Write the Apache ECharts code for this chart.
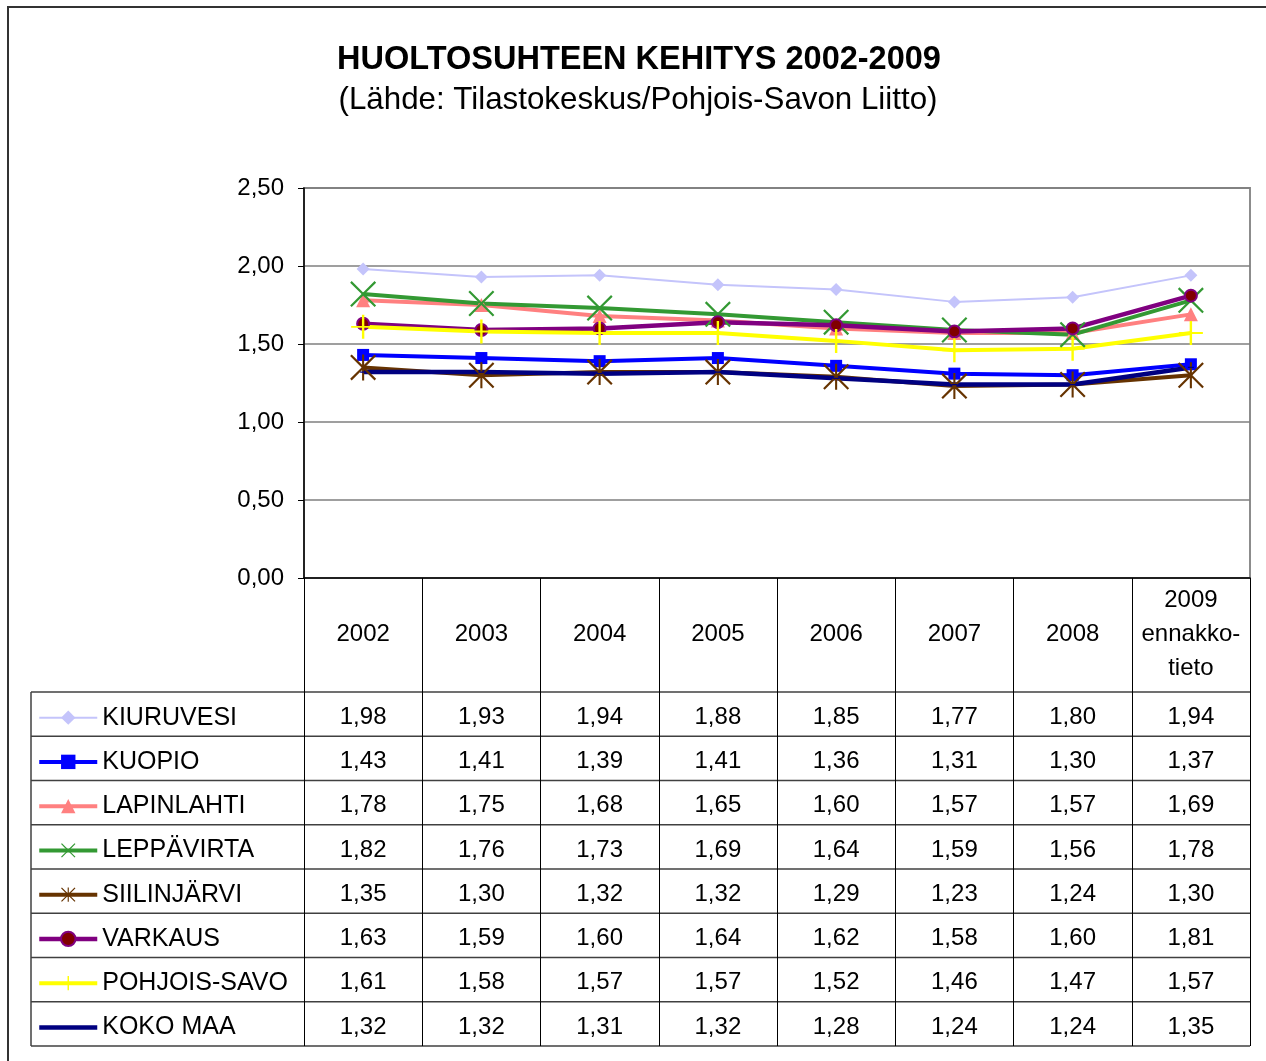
<!DOCTYPE html>
<html>
<head>
<meta charset="utf-8">
<script src="https://cdn.jsdelivr.net/npm/echarts@6/dist/echarts.min.js"></script>
<style>
  html, body { margin: 0; padding: 0; background: #fff; }
  #main { width: 1266px; height: 1061px; }
</style>
</head>
<body>
<div id="main"></div>
<script>
// vuodet (x-akseli)
var years = ['2002', '2003', '2004', '2005', '2006', '2007', '2008', '2009\nennakko-\ntieto'];
var yTicks = [0, 0.5, 1, 1.5, 2, 2.5];

var kiuruvesi   = [1.98, 1.93, 1.94, 1.88, 1.85, 1.77, 1.80, 1.94];
var kuopio      = [1.43, 1.41, 1.39, 1.41, 1.36, 1.31, 1.30, 1.37];
var lapinlahti  = [1.78, 1.75, 1.68, 1.65, 1.60, 1.57, 1.57, 1.69];
var leppavirta  = [1.82, 1.76, 1.73, 1.69, 1.64, 1.59, 1.56, 1.78];
var siilinjarvi = [1.35, 1.30, 1.32, 1.32, 1.29, 1.23, 1.24, 1.30];
var varkaus     = [1.63, 1.59, 1.60, 1.64, 1.62, 1.58, 1.60, 1.81];
var pohjoisSavo = [1.61, 1.58, 1.57, 1.57, 1.52, 1.46, 1.47, 1.57];
var kokoMaa     = [1.32, 1.32, 1.31, 1.32, 1.28, 1.24, 1.24, 1.35];

var names = ['KIURUVESI', 'KUOPIO', 'LAPINLAHTI', 'LEPPÄVIRTA', 'SIILINJÄRVI', 'VARKAUS', 'POHJOIS-SAVO', 'KOKO MAA'];
var values = [kiuruvesi, kuopio, lapinlahti, leppavirta, siilinjarvi, varkaus, pohjoisSavo, kokoMaa];

// merkit
var xMark = 'path://M0,0.6L0.6,0L5,4.4L9.4,0L10,0.6L5.6,5L10,9.4L9.4,10L5,5.6L0.6,10L0,9.4L4.4,5Z';
var starMark = 'path://M0,0.6L0.6,0L5,4.4L9.4,0L10,0.6L5.6,5L10,9.4L9.4,10L5,5.6L0.6,10L0,9.4L4.4,5Z M4.6,0L5.4,0L5.4,10L4.6,10Z';
var plusMark = 'path://M4.5,0L5.5,0L5.5,4.6L10,4.6L10,5.4L5.5,5.4L5.5,10L4.5,10L4.5,5.4L0,5.4L0,4.6L4.5,4.6Z';
// lyhyt viiva, neliön rajat tyhjillä pisteillä
var dashMark = 'path://M0,0L0,0.01Z M2,4.4L8,4.4L8,5.6L2,5.6Z M10,9.99L10,10Z';

var styles = [
  { color: '#c4c4fb', width: 2, symbol: 'diamond', size: 13 },
  { color: '#0000ff', width: 4, symbol: 'rect', size: 12 },
  { color: '#ff8080', width: 4, symbol: 'triangle', size: 14 },
  { color: '#339933', width: 4, symbol: xMark, size: 26 },
  { color: '#663300', width: 4, symbol: starMark, size: 26 },
  { color: '#800080', width: 4.5, symbol: 'circle', size: 12, fill: '#800000' },
  { color: '#ffff00', width: 4, symbol: plusMark, size: 24 },
  { color: '#000080', width: 4.5, symbol: dashMark, size: 10 }
];

var FONT = '"Liberation Sans", Arial, sans-serif';
var GRID_LEFT = 304, GRID_RIGHT = 1250, GRID_TOP = 188, AXIS_Y = 578;
var HEAD_BOTTOM = 692, ROW_H = 44.25, TABLE_LEFT = 31;

function fmt(v) {
  return v.toFixed(2).replace('.', ',');
}

var series = names.map(function (n, i) {
  var s = styles[i];
  return {
    name: n,
    type: 'line',
    data: values[i],
    symbol: s.symbol,
    symbolSize: s.size,
    showAllSymbol: true,
    lineStyle: { color: s.color, width: s.width },
    itemStyle: s.fill
      ? { color: s.fill, borderColor: s.color, borderWidth: 2 }
      : { color: s.color, borderWidth: 0 },
    emphasis: { disabled: true },
    silent: true
  };
});

var chart = echarts.init(document.getElementById('main'), null, { renderer: 'canvas' });

var option = {
  animation: false,
  backgroundColor: '#fff',
  color: styles.map(function (s) { return s.color; }),
  title: [{
    text: 'HUOLTOSUHTEEN KEHITYS 2002-2009',
    left: 634,
    top: 39,
    textAlign: 'center',
    textStyle: { fontFamily: FONT, fontSize: 32.5, fontWeight: 'bold', color: '#000' }
  }, {
    text: '(Lähde: Tilastokeskus/Pohjois-Savon Liitto)',
    left: 633,
    top: 80,
    textAlign: 'center',
    textStyle: { fontFamily: FONT, fontSize: 31.3, fontWeight: 'normal', color: '#000' }
  }],
  legend: {
    data: names,
    orient: 'vertical',
    left: 37,
    top: HEAD_BOTTOM + ROW_H / 2 + 3 - 12,
    padding: 0,
    itemWidth: 58,
    itemHeight: 18,
    itemGap: ROW_H - 25,
    selectedMode: false,
    lineStyle: { width: 'inherit' },
    textStyle: { fontFamily: FONT, fontSize: 25, lineHeight: 24, color: '#000' }
  },
  grid: {
    left: GRID_LEFT,
    right: 1266 - GRID_RIGHT,
    top: GRID_TOP,
    bottom: 1061 - AXIS_Y,
    show: true,
    borderColor: '#8c8c8c',
    borderWidth: 2,
    backgroundColor: '#fff'
  },
  xAxis: {
    type: 'category',
    data: years,
    boundaryGap: true,
    axisLine: { lineStyle: { color: '#000', width: 1.5 } },
    axisTick: { show: true, interval: 0, length: 1046 - AXIS_Y, lineStyle: { color: '#000', width: 1 } },
    axisLabel: {
      interval: 0,
      margin: 56,
      verticalAlign: 'middle',
      fontFamily: FONT,
      fontSize: 24,
      lineHeight: 34,
      color: '#000'
    }
  },
  yAxis: {
    type: 'value',
    min: yTicks[0],
    max: yTicks[yTicks.length - 1],
    interval: 0.5,
    axisLine: { show: true, lineStyle: { color: '#000', width: 1.5 } },
    axisTick: { show: true, length: 6, lineStyle: { color: '#000' } },
    splitLine: { lineStyle: { color: '#7f7f7f', width: 1.5 } },
    axisLabel: {
      margin: 20,
      fontFamily: FONT,
      fontSize: 24,
      color: '#000',
      formatter: function (v) { return fmt(v); }
    }
  },
  series: series
};

chart.setOption(option);

// taulukon viivat ja arvot
var graphic = [{
  type: 'rect',
  shape: { x: 8, y: 7, width: 1400, height: 1200 },
  style: { fill: null, stroke: '#333', lineWidth: 2 },
  silent: true,
  z: -10
}];
for (var r = 0; r <= names.length; r++) {
  var y = HEAD_BOTTOM + r * ROW_H;
  graphic.push({
    type: 'line',
    shape: { x1: TABLE_LEFT, y1: y, x2: GRID_RIGHT, y2: y },
    style: { stroke: '#404040', lineWidth: 1.5 },
    silent: true
  });
}
graphic.push({
  type: 'line',
  shape: { x1: TABLE_LEFT, y1: HEAD_BOTTOM, x2: TABLE_LEFT, y2: HEAD_BOTTOM + names.length * ROW_H },
  style: { stroke: '#404040', lineWidth: 1.5 },
  silent: true
});
values.forEach(function (arr, r) {
  var cy = HEAD_BOTTOM + r * ROW_H + ROW_H / 2 + 3;
  arr.forEach(function (v, c) {
    var cx = chart.convertToPixel({ xAxisIndex: 0 }, c);
    graphic.push({
      type: 'text',
      x: cx,
      y: cy,
      silent: true,
      style: {
        text: fmt(v),
        fontFamily: FONT,
        fontSize: 24,
        fill: '#000',
        align: 'center',
        verticalAlign: 'middle'
      }
    });
  });
});

chart.setOption({ graphic: graphic });
</script>
</body>
</html>
